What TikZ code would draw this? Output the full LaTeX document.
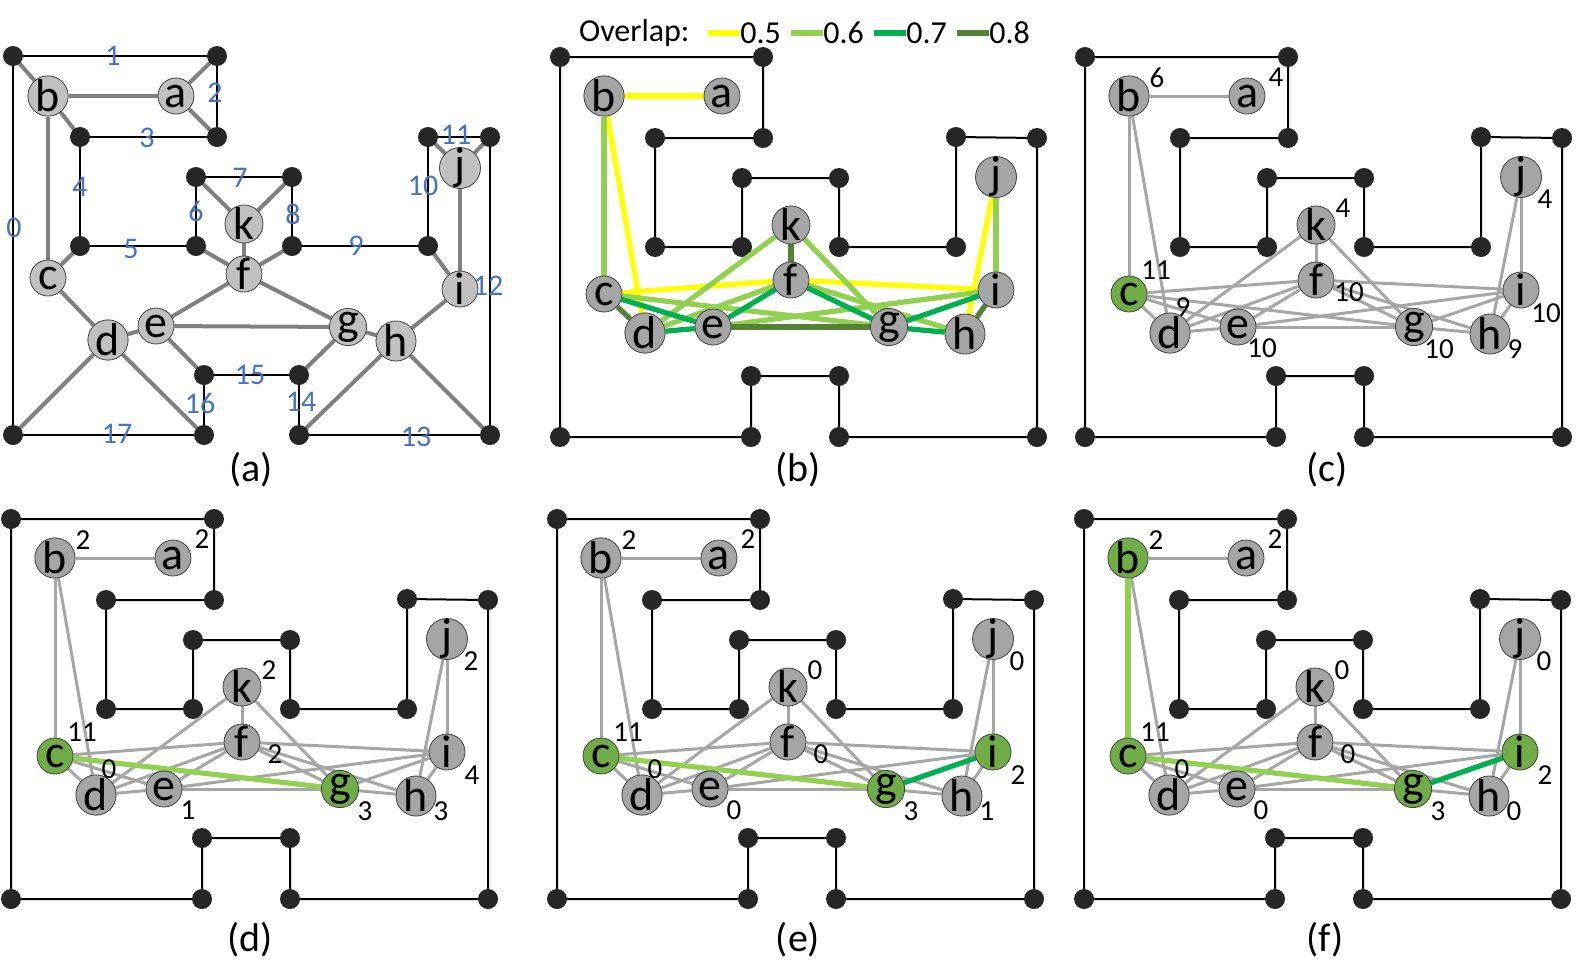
\documentclass[tikz,border=0pt]{standalone}
\usepackage{fontspec}
\setmainfont{Carlito}
\usetikzlibrary{backgrounds}

\definecolor{dotgray}{HTML}{262626}
\definecolor{vgray}{HTML}{A5A5A5}
\definecolor{vlight}{HTML}{C0C0C0}
\definecolor{hitgreen}{HTML}{70AD47}
\definecolor{ovyellow}{HTML}{FFFF00}
\definecolor{ovlight}{HTML}{92D050}
\definecolor{ovgreen}{HTML}{00B050}
\definecolor{ovdark}{HTML}{548235}
\definecolor{lblue}{HTML}{4472C4}

\tikzset{
  wall/.style={black, line width=1pt},
  dot/.style={fill=dotgray},
  vtx/.style={circle, draw=black!75, line width=0.4pt, inner sep=0pt,
    minimum size=18pt, font=\fontsize{23}{23}\selectfont},
  link/.style={draw=black!35, line width=1.5pt},
  linkA/.style={draw=black!50, line width=2pt},
  ovline/.style={line width=2.6pt},
  cnt/.style={font=\fontsize{14.5}{15}\selectfont},
  elbl/.style={text=lblue, font=\fontsize{15}{16}\selectfont},
  caption/.style={font=\fontsize{20}{21}\selectfont}
}

% default vertex fills, changed per panel
\def\hla{vgray}\def\hlb{vgray}\def\hlc{vgray}\def\hld{vgray}
\def\hle{vgray}\def\hlf{vgray}\def\hlg{vgray}\def\hlh{vgray}
\def\hli{vgray}\def\hlj{vgray}\def\hlk{vgray}

% offsets of the count labels
\def\offb{28,-18}\def\offa{29,-19}\def\offk{27,-17}\def\offj{24,22}
\def\offc{27,-24}\def\offd{13,-26}\def\offf{33,12}\def\offe{24,21}
\def\offg{25,22}\def\offh{25,15}\def\offi{25,23}

% room, vertices and links of panels (b)-(f)
\newcommand{\roomB}[3]{%
  \foreach \n/\x/\y in {0/560/57,1/763/57,2/763/138,3/655/138,4/655/247,
      5/742/247,6/742/178,7/839/178,8/839/247,9/956/247,10/956/137,
      11/1037/138,12/1037/437,13/839/437,14/839/376,15/751/376,
      16/751/437,17/560/437}
    \coordinate (#1w\n) at (\x+#2,\y+#3);
  \foreach \v/\x/\y in {b/604/96,a/722/96,c/604/294,d/645/333,e/713/327,
      f/791/280,k/791/225,g/889/327,h/965/334,i/996/290,j/996/177}
    \node[vtx, fill=\csname hl\v\endcsname] (#1\v) at (\x+#2,\y+#3) {\v};
  \begin{pgfonlayer}{background}
    \draw[wall] (#1w0) \foreach \n in {1,...,17}{ -- (#1w\n)} -- cycle;
    \foreach \n in {0,...,17} \fill[dot] (#1w\n) circle (5pt);
  \end{pgfonlayer}
}
\newcommand{\grayB}[1]{%
  \begin{pgfonlayer}{background}
    \foreach \p/\q in {b/a,b/c,b/d,c/d,c/e,c/f,c/g,d/e,d/f,d/k,e/f,e/g,e/i,
        f/g,f/h,f/i,f/k,k/g,g/h,g/i,h/i,i/j,j/h}
      \draw[link] (#1\p) -- (#1\q);
  \end{pgfonlayer}
}
\newcommand{\counts}[2]{%
  \foreach \v/\t in {#2}
    \node[cnt] (#1n\v) at ([shift={(\csname off\v\endcsname)}]#1\v.center) {\t};
}

\begin{document}
\begin{tikzpicture}[x=0.5pt, y=-0.5pt]
\useasboundingbox (0,0) rectangle (1577,970);

% ---- (a)
\foreach \n/\x/\y in {0/13/56,1/217/56,2/217/137,3/80/137,4/80/246,5/196/246,
    6/196/177,7/292/177,8/292/246,9/428/246,10/428/137,11/490/137,
    12/490/435,13/299/435,14/299/375,15/204/375,16/204/435,17/13/435}
  \coordinate (aw\n) at (\x,\y);
\foreach \v/\x/\y in {b/48/96,a/176/96,c/48/278,d/108/340,e/156/326,f/244/274,
    k/244/224,g/348/327,h/396/341,i/460/289,j/460/168}
  \node[vtx, fill=vlight] (a\v) at (\x,\y) {\v};
\begin{pgfonlayer}{background}
  \draw[wall] (aw0) \foreach \n in {1,...,17}{ -- (aw\n)} -- cycle;
  \foreach \p/\q in {aw0/ab,ab/aa,aa/aw1,aa/aw2,ab/aw3,ab/ac,ac/aw4,ac/ad,
      ad/ae,ae/af,af/aw5,af/aw8,af/ak,ak/aw6,ak/aw7,af/ag,ae/ag,ae/aw15,
      ag/aw14,ag/ah,ah/ai,ai/aw9,ai/aj,aj/aw10,aj/aw11,ah/aw13,ah/aw12,
      ad/aw17,ad/aw16}
    \draw[linkA] (\p) -- (\q);
  \foreach \n in {0,...,17} \fill[dot] (aw\n) circle (5pt);
\end{pgfonlayer}
\foreach \t/\x/\y in {0/14/228,1/113/56,2/215/93,3/147/138,4/80/187,5/131/249,
    6/196/211,7/240/178,8/293/214,9/356/246,10/423/186,11/456/135,
    12/488/286,13/416/437,14/301/402,15/250/375,16/200/403,17/117/434}
  \node[elbl] (lab\t) at (\x,\y) {\t};
\node[caption] (capa) at (251,470) {(a)};

% ---- (b)
\roomB{b}{0}{0}
\begin{pgfonlayer}{background}
  \foreach \p/\q/\s in {b/a/ovyellow,b/d/ovyellow,c/f/ovyellow,f/i/ovyellow,
      j/h/ovyellow,b/c/ovlight,c/g/ovlight,d/k/ovlight,d/f/ovlight,
      e/i/ovlight,f/h/ovlight,k/g/ovlight,i/j/ovlight,c/e/ovgreen,
      d/e/ovgreen,e/f/ovgreen,f/g/ovgreen,g/i/ovgreen,g/h/ovgreen,
      c/d/ovdark,e/g/ovdark,f/k/ovdark,h/i/ovdark}
    \draw[ovline, draw=\s] (b\p) -- (b\q);
\end{pgfonlayer}
\node[cnt, anchor=west, font=\fontsize{16}{17}\selectfont] (ovtitle) at (572,33) {Overlap:};
\foreach \t/\x/\s in {5/740/ovyellow,6/823/ovlight,7/906/ovgreen,8/989/ovdark}{
  \node[anchor=west, inner sep=0pt, font=\fontsize{16}{17}\selectfont] (ov\t) at (\x,33) {0.\t};
  \draw[ovline, draw=\s] ([xshift=-16pt]ov\t.west) -- (ov\t.west);
}
\node[caption] (capb) at (798,470) {(b)};

% ---- (c)
\begin{scope}
  \def\hlc{hitgreen}
  \roomB{c}{525}{0}
  \grayB{c}
  \counts{c}{b/6,a/4,k/4,j/4,c/11,d/9,f/10,e/10,g/10,h/9,i/10}
\end{scope}
\node[caption] (capc) at (1327,470) {(c)};

% ---- (d)
\begin{scope}
  \def\hlc{hitgreen}\def\hlg{hitgreen}
  \roomB{d}{-549}{462}
  \grayB{d}
  \begin{pgfonlayer}{background}
    \draw[ovline, draw=ovlight] (dc) -- (dg);
  \end{pgfonlayer}
  \counts{d}{b/2,a/2,k/2,j/2,c/11,d/0,f/2,e/1,g/3,h/3,i/4}
\end{scope}
\node[caption] (capd) at (250,940) {(d)};

% ---- (e)
\begin{scope}
  \def\hlc{hitgreen}\def\hlg{hitgreen}\def\hli{hitgreen}
  \roomB{e}{-3}{462}
  \grayB{e}
  \begin{pgfonlayer}{background}
    \draw[ovline, draw=ovlight] (ec) -- (eg);
    \draw[ovline, draw=ovgreen] (eg) -- (ei);
  \end{pgfonlayer}
  \counts{e}{b/2,a/2,k/0,j/0,c/11,d/0,f/0,e/0,g/3,h/1,i/2}
\end{scope}
\node[caption] (cape) at (798,940) {(e)};

% ---- (f)
\begin{scope}
  \def\hlb{hitgreen}\def\hlc{hitgreen}\def\hlg{hitgreen}\def\hli{hitgreen}
  \roomB{f}{524}{462}
  \grayB{f}
  \begin{pgfonlayer}{background}
    \draw[ovline, draw=ovlight] (fb) -- (fc);
    \draw[ovline, draw=ovlight] (fc) -- (fg);
    \draw[ovline, draw=ovgreen] (fg) -- (fi);
  \end{pgfonlayer}
  \counts{f}{b/2,a/2,k/0,j/0,c/11,d/0,f/0,e/0,g/3,h/0,i/2}
\end{scope}
\node[caption] (capf) at (1325,940) {(f)};
\end{tikzpicture}
\end{document}
